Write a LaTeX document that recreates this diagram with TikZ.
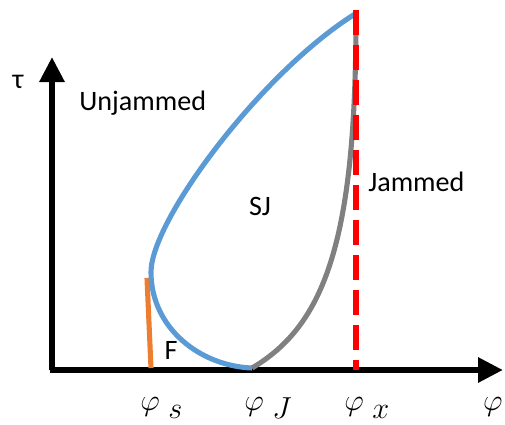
\documentclass[tikz,border=0pt]{standalone}
\usepackage{amsmath,amssymb}
\usepackage{fontspec}
\setmainfont{Carlito}
\usepackage{xcolor}
\usetikzlibrary{arrows.meta,positioning,calc}

\definecolor{sjblue}{RGB}{91,155,213}
\definecolor{sjgray}{RGB}{128,128,128}
\definecolor{sjorange}{RGB}{237,125,49}

\newcommand{\phisub}[1]{$\varphi\;\raisebox{-5pt}{$#1$}$}

\begin{document}
\begin{tikzpicture}[x=0.02cm,y=-0.02cm,
  axis/.style={line width=3.4pt,-{Triangle[length=0.5cm,width=0.48cm]}},
  curve/.style={line width=2.9pt},
  lbl/.style={font=\fontsize{16}{19}\selectfont,inner sep=0pt},
  philbl/.style={font=\fontsize{17}{20}\selectfont,inner sep=0pt}]
  \useasboundingbox (0,0) rectangle (505,424);
  % axes
  \coordinate (O) at (52,370);
  \coordinate (ytip) at (52,57);
  \coordinate (xtip) at (503,370);
  \draw[axis] (O) -- (ytip);
  \draw[axis] ($(O)+(-1.5,0)$) -- (xtip);
  % branches
  \coordinate (J) at (252,368);
  \coordinate (L) at (151,272);
  \coordinate (T) at (355,14);
  \draw[curve,sjorange] (147,278) -- (151,368);
  \draw[curve,sjblue] (J) .. controls (200,366) and (151,328) .. (L)
    .. controls (151,220) and (262,72) .. (T);
  \draw[curve,sjgray] (J) .. controls (325,325) and (356,240) .. (356,16);
  \draw[line width=2.9pt,red,dash pattern=on 0.5cm off 0.2cm] (356,10) -- (356,370);
  % labels
  \node[lbl] (tau) at (18,82) {τ};
  \node[lbl,anchor=west] (unjammed) at (79,103) {Unjammed};
  \node[lbl] (sj) at (260,206) {SJ};
  \node[lbl,anchor=west] (jammed) at (368,182) {Jammed};
  \node[lbl] (F) at (171,350) {F};
  \node[philbl,anchor=base west] (phis) at (140,410) {\phisub{s}};
  \node[philbl,anchor=base west] (phiJ) at (244,410) {\phisub{J}};
  \node[philbl,anchor=base west] (phix) at (344,410) {\phisub{x}};
  \node[philbl,anchor=base east] (phi) at (503,410) {$\varphi$};
\end{tikzpicture}
\end{document}
